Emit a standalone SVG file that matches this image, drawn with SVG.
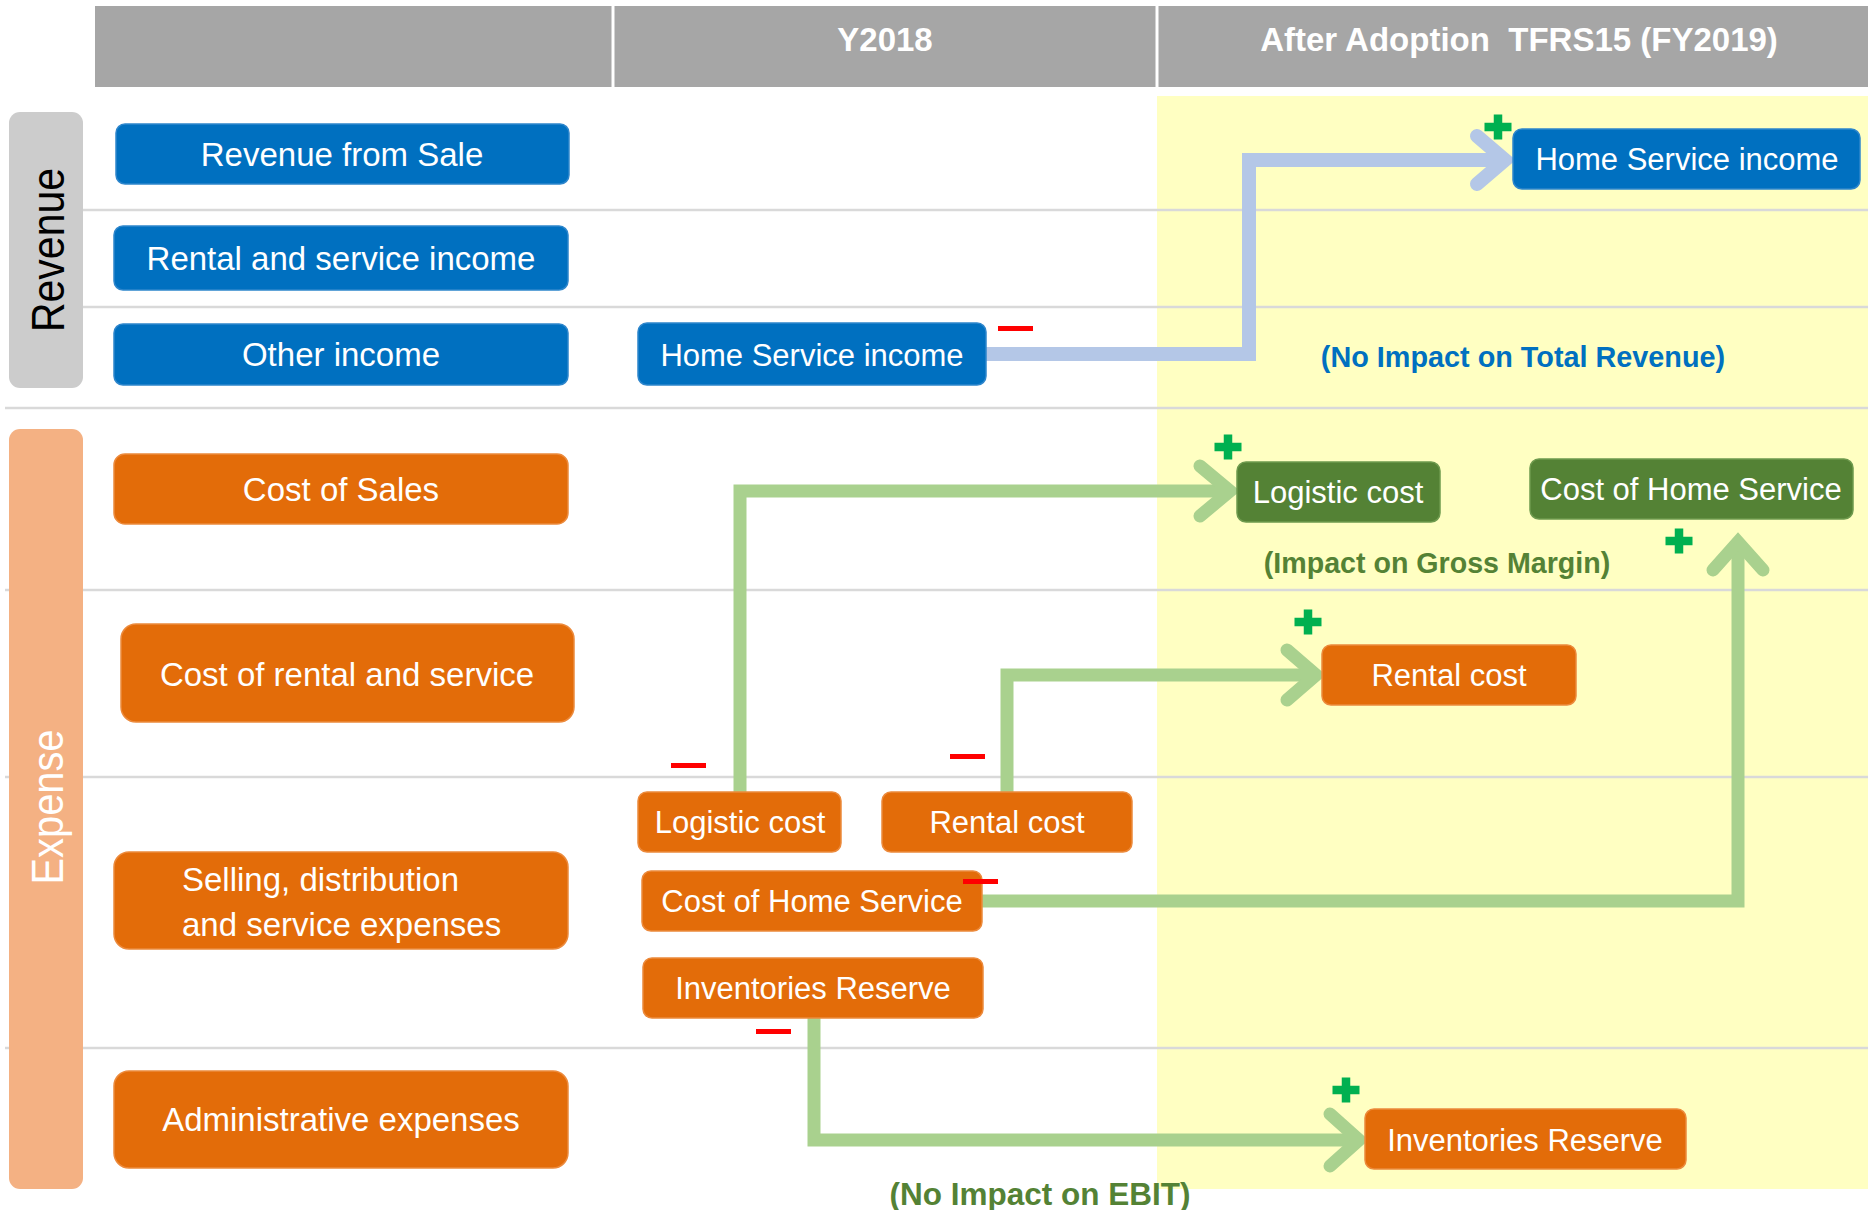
<svg xmlns="http://www.w3.org/2000/svg" xmlns:xlink="http://www.w3.org/1999/xlink" width="1868" height="1210" viewBox="0 0 1868 1210">
<style>
.grid{stroke:#D9D9D9;stroke-width:2.5;fill:none}
.blue{fill:#0070C0;stroke:#2E86CC;stroke-width:1.5}
.orange{fill:#E36C09;stroke:#EC8A3C;stroke-width:1.5}
.dgreen{fill:#548235;stroke:#6E9A4E;stroke-width:1.5}
.lt{font-family:"Liberation Sans",Arial,sans-serif;font-size:33px;fill:#FFFFFF;text-anchor:middle}
.rt{font-family:"Liberation Sans",Arial,sans-serif;font-size:31px;fill:#FFFFFF;text-anchor:middle}
.hd{font-family:"Liberation Sans",Arial,sans-serif;font-size:33px;font-weight:bold;fill:#FFFFFF;text-anchor:middle;white-space:pre}
.side{font-family:"Liberation Sans",Arial,sans-serif;text-anchor:middle}
.note{font-family:"Liberation Sans",Arial,sans-serif;font-weight:bold;text-anchor:middle}
.conn-g{stroke:#A9D18E;stroke-width:13;fill:none}
.conn-b{stroke:#B4C7E7;stroke-width:14;fill:none}
.chev-g{stroke:#A9D18E;stroke-width:13;fill:none;stroke-linecap:round;stroke-linejoin:miter}
.chev-b{stroke:#B4C7E7;stroke-width:14;fill:none;stroke-linecap:round;stroke-linejoin:miter}
.plus{stroke:#00B050;stroke-width:8.5;fill:none}
.minus{fill:#FF0000}
</style>
<defs>
<path id="plus" class="plus" d="M-13.5,0H13.5M0,-12.5V12.5"/>
<rect id="minus" class="minus" x="0" y="0" width="35" height="5"/>
</defs>

<g id="background">
<rect x="0" y="0" width="1868" height="1210" fill="#FFFFFF"/>
<rect x="1157" y="96" width="711" height="1093" fill="#FFFFC2"/>
</g>

<g id="gridlines">
<line class="grid" x1="83" y1="210" x2="1868" y2="210"/>
<line class="grid" x1="83" y1="307" x2="1868" y2="307"/>
<line class="grid" x1="5" y1="408" x2="1868" y2="408"/>
<line class="grid" x1="5" y1="590" x2="1868" y2="590"/>
<line class="grid" x1="5" y1="777" x2="1868" y2="777"/>
<line class="grid" x1="5" y1="1048" x2="1868" y2="1048"/>
</g>

<g id="header">
<rect x="95" y="6" width="1773" height="81" fill="#A6A6A6"/>
<line x1="613" y1="6" x2="613" y2="87" stroke="#FFFFFF" stroke-width="3"/>
<line x1="1157" y1="6" x2="1157" y2="87" stroke="#FFFFFF" stroke-width="3"/>
<text class="hd" x="885" y="51">Y2018</text>
<text class="hd" x="1519" y="51">After Adoption  TFRS15 (FY2019)</text>
</g>

<g id="side-revenue">
<rect x="9" y="112" width="74" height="276" rx="11" fill="#CCCCCC"/>
<text class="side" transform="translate(64,250) rotate(-90)" font-size="46" fill="#000000" textLength="164" lengthAdjust="spacingAndGlyphs">Revenue</text>
</g>
<g id="side-expense">
<rect x="9" y="429" width="74" height="760" rx="11" fill="#F4B183"/>
<text class="side" transform="translate(63,807) rotate(-90)" font-size="44" fill="#FFFFFF" textLength="155" lengthAdjust="spacingAndGlyphs">Expense</text>
</g>

<g id="connectors">
<path class="conn-b" d="M980,354 H1249 V160 H1500"/>
<path class="chev-b" d="M1477,136 L1505,160 L1477,184"/>
<path class="conn-g" d="M740,796 V491 H1226"/>
<path class="chev-g" d="M1200,466 L1230,491 L1200,516"/>
<path class="conn-g" d="M1007,796 V675 H1312"/>
<path class="chev-g" d="M1287,650 L1316,675 L1287,700"/>
<path class="conn-g" d="M976,901 H1738 V548"/>
<path class="chev-g" d="M1713,570 L1738,542 L1763,570"/>
<path class="conn-g" d="M814,1014 V1140 H1354"/>
<path class="chev-g" d="M1330,1114 L1359,1140 L1330,1166"/>
</g>

<g id="n-revenue-from-sale"><rect class="blue" x="116" y="124" width="453" height="60" rx="9"/><text class="lt" x="342" y="166">Revenue from Sale</text></g>
<g id="n-rental-service-income"><rect class="blue" x="114" y="226" width="454" height="64" rx="9"/><text class="lt" x="341" y="270">Rental and service income</text></g>
<g id="n-other-income"><rect class="blue" x="114" y="324" width="454" height="61" rx="9"/><text class="lt" x="341" y="366">Other income</text></g>
<g id="n-cost-of-sales"><rect class="orange" x="114" y="454" width="454" height="70" rx="11"/><text class="lt" x="341" y="501">Cost of Sales</text></g>
<g id="n-cost-rental-service"><rect class="orange" x="121" y="624" width="453" height="98" rx="15"/><text class="lt" x="347" y="686">Cost of rental and service</text></g>
<g id="n-selling"><rect class="orange" x="114" y="852" width="454" height="97" rx="15"/><text class="lt" x="182" y="891" style="text-anchor:start">Selling, distribution</text><text class="lt" x="182" y="936" style="text-anchor:start">and service expenses</text></g>
<g id="n-admin"><rect class="orange" x="114" y="1071" width="454" height="97" rx="15"/><text class="lt" x="341" y="1131">Administrative expenses</text></g>

<g id="n-y18-home-income"><rect class="blue" x="638" y="323" width="348" height="62" rx="9"/><text class="rt" x="812" y="366">Home Service income</text></g>
<g id="n-y18-logistic"><rect class="orange" x="638" y="792" width="203" height="60" rx="9"/><text class="rt" x="740" y="833">Logistic cost</text></g>
<g id="n-y18-rental"><rect class="orange" x="882" y="792" width="250" height="60" rx="9"/><text class="rt" x="1007" y="833">Rental cost</text></g>
<g id="n-y18-home-cost"><rect class="orange" x="642" y="871" width="340" height="60" rx="9"/><text class="rt" x="812" y="912">Cost of Home Service</text></g>
<g id="n-y18-inventories"><rect class="orange" x="643" y="958" width="340" height="60" rx="9"/><text class="rt" x="813" y="999">Inventories Reserve</text></g>

<g id="n-new-home-income"><rect class="blue" x="1513" y="129" width="347" height="60" rx="9"/><text class="rt" x="1687" y="170">Home Service income</text></g>
<g id="n-new-logistic"><rect class="dgreen" x="1237" y="462" width="203" height="60" rx="9"/><text class="rt" x="1338" y="503">Logistic cost</text></g>
<g id="n-new-home-cost"><rect class="dgreen" x="1530" y="459" width="323" height="60" rx="9"/><text class="rt" x="1691" y="500">Cost of Home Service</text></g>
<g id="n-new-rental"><rect class="orange" x="1322" y="645" width="254" height="60" rx="9"/><text class="rt" x="1449" y="686">Rental cost</text></g>
<g id="n-new-inventories"><rect class="orange" x="1365" y="1109" width="321" height="60" rx="9"/><text class="rt" x="1525" y="1151">Inventories Reserve</text></g>

<g id="signs">
<use xlink:href="#plus" href="#plus" x="1498" y="127"/>
<use xlink:href="#plus" href="#plus" x="1228" y="447"/>
<use xlink:href="#plus" href="#plus" x="1679" y="541"/>
<use xlink:href="#plus" href="#plus" x="1308" y="622"/>
<use xlink:href="#plus" href="#plus" x="1346" y="1090"/>
<use xlink:href="#minus" href="#minus" x="998" y="326"/>
<use xlink:href="#minus" href="#minus" x="671" y="763"/>
<use xlink:href="#minus" href="#minus" x="950" y="754"/>
<use xlink:href="#minus" href="#minus" x="963" y="879"/>
<use xlink:href="#minus" href="#minus" x="756" y="1029"/>
</g>

<g id="labels">
<text class="note" x="1523" y="367" font-size="28.8" fill="#0070C0">(No Impact on Total Revenue)</text>
<text class="note" x="1437" y="573" font-size="28.6" fill="#548235">(Impact on Gross Margin)</text>
<text class="note" x="1040" y="1205" font-size="31.5" fill="#548235">(No Impact on EBIT)</text>
</g>
</svg>
